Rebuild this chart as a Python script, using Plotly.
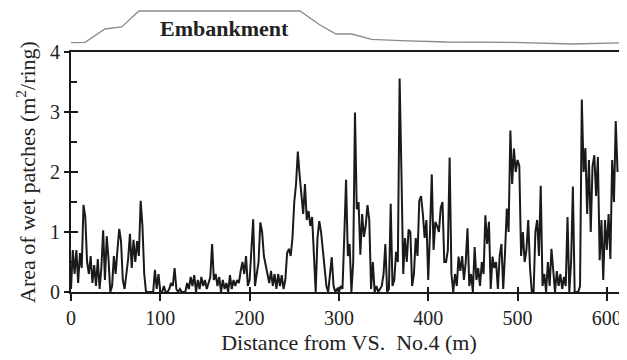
import plotly.graph_objects as go

# ---------------- data ----------------
distance_step_m = 2.0
wet_area = [
    0.05, 0.7, 0.3, 0.7, 0.15, 0.65, 0.4, 1.45, 1.25, 0.5,
    0.3, 0.6, 0.15, 0.45, 0.1, 0.55, 0.05, 0.4, 1.03, 0.2,
    0.93, 0.55, 0.0, 0.1, 0.6, 0.3, 0.7, 1.05, 0.85, 0.2,
    0.05, 0.3, 0.55, 0.97, 0.4, 0.87, 0.5, 0.85, 0.6, 1.52,
    1.1, 0.3, 0.0, 0.0, 0.0, 0.0, 0.0, 0.37, 0.05, 0.3,
    0.0, 0.0, 0.1, 0.0, 0.0, 0.05, 0.15, 0.1, 0.4, 0.05,
    0.0, 0.05, 0.0, 0.0, 0.0, 0.15, 0.05, 0.25, 0.1, 0.28,
    0.0, 0.2, 0.05, 0.25, 0.1, 0.2, 0.05, 0.15, 0.25, 0.8,
    0.2, 0.3, 0.1, 0.25, 0.0, 0.2, 0.05, 0.15, 0.0, 0.28,
    0.05, 0.2, 0.1, 0.2, 0.15, 0.35, 0.5, 0.3, 0.6, 0.1,
    0.2, 0.7, 1.21, 0.1, 0.3, 0.5, 1.16, 1.0, 0.6, 0.45,
    0.3, 0.15, 0.35, 0.1, 0.3, 0.05, 0.3, 0.1, 0.28, 0.05,
    0.2, 0.65, 0.72, 0.6, 0.9, 1.5, 1.8, 2.34, 1.95, 1.6,
    1.3, 1.8, 1.2, 1.35, 1.1, 1.25, 0.6, 0.0, 0.9, 1.18,
    1.0, 0.7, 0.4, 0.1, 0.0, 0.3, 0.58, 0.1, 0.0, 0.05,
    0.0, 0.1, 0.05, 0.92, 1.87, 0.6, 0.8, 0.0, 0.5, 2.99,
    1.38, 1.5, 0.62, 1.3, 0.92, 1.1, 1.45, 1.2, 0.05, 0.5,
    0.0, 0.1, 0.0, 0.05, 0.1, 0.3, 0.8, 0.0, 0.05, 1.47,
    0.1, 0.2, 0.67, 0.5, 3.56, 2.01, 0.3, 0.9, 0.5, 1.04,
    1.0, 0.1, 0.3, 0.9, 0.6, 1.52, 1.6, 1.3, 0.9, 1.2,
    0.2, 1.0, 1.96, 0.7, 1.17, 1.1, 1.0, 1.4, 1.5, 0.5,
    0.5, 0.7, 2.24, 0.3, 0.0, 0.3, 0.1, 0.59, 0.35, 0.6,
    0.2, 0.5, 1.06, 0.1, 0.3, 0.0, 0.75, 0.2, 0.4, 0.1,
    0.5, 0.3, 1.28, 0.8, 1.17, 0.05, 0.59, 0.4, 0.5, 0.05,
    0.6, 0.8, 0.05, 0.65, 1.39, 1.0, 2.69, 1.8, 2.39, 2.0,
    2.2, 2.1, 0.6, 1.0, 0.5, 0.7, 1.2, 0.4, 0.0, 0.0,
    1.0, 1.2, 0.6, 1.77, 0.1, 0.3, 0.0, 0.5, 0.1, 0.72,
    0.3, 0.0, 0.35, 0.1, 0.3, 0.05, 0.25, 0.1, 1.25, 0.0,
    0.5, 1.76, 0.0, 0.0, 0.0, 0.1, 3.21, 2.0, 2.4, 1.3,
    2.2, 1.0, 2.1, 2.28, 1.6, 2.25, 0.53, 1.2, 0.2, 1.2,
    0.7, 1.3, 0.55, 2.2, 1.5, 2.85, 2.0,
]
distance = [i * distance_step_m for i in range(len(wet_area))]

# embankment profile sketch (relative height)
profile_distance = [0, 15.7, 38, 56.8, 76, 256.4, 278.8, 296.7, 314.3, 336.7, 368.4, 420.7, 495, 562, 622.6]
profile_height = [9.3, 9.7, 23, 25, 41, 41, 27, 18, 18, 12.7, 11.3, 10, 9.7, 8, 9.3]

x_tick_values = [0, 100, 200, 300, 400, 500, 600]
y_tick_values = [0, 1, 2, 3, 4]
y_tick_labels = ["0", "1", "2", "3", "4"]
x_title = "Distance from VS.  No.4 (m)"
y_title = "Area of wet patches (m<sup>2</sup>/ring)"
embankment_label = "Embankment"

# ---------------- figure ----------------
FONT = "Liberation Serif, Times New Roman, DejaVu Serif, serif"
AX = "#1a1a1a"
XR = [0, 622.6]
YR = [0, 4]
FIG_W, FIG_H = 619, 352          # page body keeps an 8 px margin
M_L, M_T, M_B = 63, 0, 68
PLOT_H = FIG_H - M_T - M_B       # 284
DOM_TOP = 240 / PLOT_H

fig = go.Figure()
fig.add_trace(go.Scatter(x=distance, y=wet_area, mode="lines",
                         line=dict(color="#1a1a1a", width=2),
                         xaxis="x", yaxis="y", showlegend=False, hoverinfo="skip"))
# invisible twin carrying the inside half of the crossing ticks
fig.add_trace(go.Scatter(x=distance, y=wet_area, mode="lines",
                         line=dict(color="rgba(0,0,0,0)", width=0),
                         xaxis="x2", yaxis="y2", showlegend=False, hoverinfo="skip"))
fig.add_trace(go.Scatter(x=profile_distance, y=profile_height, mode="lines",
                         line=dict(color="#8a8a8a", width=1.3),
                         xaxis="x", yaxis="y3", showlegend=False, hoverinfo="skip"))

fig.add_annotation(x=172, y=24, xref="x", yref="y3", text=f"<b>{embankment_label}</b>",
                   showarrow=False, font=dict(family=FONT, size=22, color="#222"))

fig.update_layout(
    width=FIG_W, height=FIG_H,
    margin=dict(l=M_L, r=0, t=M_T, b=M_B, autoexpand=False),
    paper_bgcolor="white", plot_bgcolor="white",
    font=dict(family=FONT, size=20, color="#222"),
    xaxis=dict(domain=[0, 1], range=XR, anchor="y", automargin=False,
               showline=True, linecolor=AX, linewidth=2, mirror=True,
               ticks="outside", ticklen=7, tickwidth=1.5, tickcolor=AX,
               tickvals=x_tick_values, showgrid=False, zeroline=False,
               title=dict(text=x_title, font=dict(size=22), standoff=7)),
    xaxis2=dict(overlaying="x", range=XR, anchor="y2", side="bottom", automargin=False,
                showline=False, ticks="inside", ticklen=5, tickwidth=1.5, tickcolor=AX,
                tickvals=x_tick_values, showticklabels=False, showgrid=False, zeroline=False),
    yaxis=dict(domain=[0, DOM_TOP], anchor="x", range=YR, automargin=False,
               showgrid=False, zeroline=False,
               tickmode="array", tickvals=y_tick_values, ticktext=y_tick_labels,
               showline=True, linecolor=AX, linewidth=2, mirror=False,
               ticks="outside", ticklen=5, tickwidth=1.5, tickcolor=AX,
               showticklabels=True, ticksuffix="\u00a0\u00a0\u00a0\u00a0",
               tickfont=dict(family=FONT, size=20, color="#222"),
               title=dict(text=y_title, font=dict(size=22), standoff=8)),
    yaxis2=dict(overlaying="y", anchor="x2", side="left", range=YR, automargin=False,
                showgrid=False, zeroline=False, tickvals=y_tick_values,
                showline=False, ticks="inside", ticklen=7, tickwidth=1.5, tickcolor=AX,
                showticklabels=False,
                minor=dict(dtick=0.5, ticks="inside", ticklen=6, tickwidth=1.5, tickcolor=AX)),
    yaxis3=dict(domain=[DOM_TOP, 1], range=[0, PLOT_H - 240], anchor="x", automargin=False,
                visible=False, showgrid=False, zeroline=False),
)

fig.write_html("out.html")
